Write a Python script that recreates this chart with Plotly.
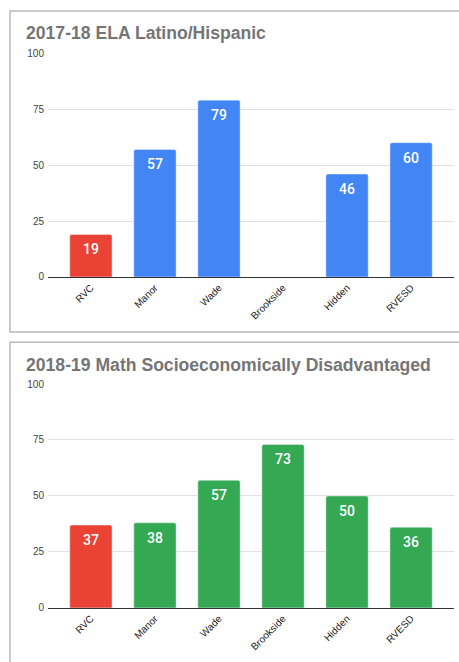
import plotly.graph_objects as go

# School categories shared by both charts
schools = ["RVC", "Manor", "Wade", "Brookside", "Hidden", "RVESD"]

# 2017-18 ELA Latino/Hispanic (Brookside has no reported value)
ela_latino = [19, 57, 79, None, 46, 60]

# 2018-19 Math Socioeconomically Disadvantaged
math_sed = [37, 38, 57, 73, 50, 36]

RED = "#EA4335"
BLUE = "#4285F4"
GREEN = "#34A853"

W, H = 459, 662


def px_x(p):
    return p / W


def px_y(p):
    return 1 - p / H


def colors_for(base):
    return [RED if s == "RVC" else base for s in schools]


fig = go.Figure()

fig.add_trace(go.Bar(
    x=schools, y=ela_latino, marker=dict(color=colors_for(BLUE), cornerradius=2),
    width=0.66, xaxis="x", yaxis="y", hoverinfo="x+y",
))
fig.add_trace(go.Bar(
    x=schools, y=math_sed, marker=dict(color=colors_for(GREEN), cornerradius=2),
    width=0.66, xaxis="x2", yaxis="y2", hoverinfo="x+y",
))

# value labels inside the top of each bar
annotations = []
for vals, xr, yr in ((ela_latino, "x", "y"), (math_sed, "x2", "y2")):
    for s, v in zip(schools, vals):
        if v is None:
            continue
        annotations.append(dict(
            x=s, y=v, xref=xr, yref=yr, text=str(v), showarrow=False,
            yshift=-15, yanchor="middle",
            font=dict(family="Roboto", size=14, color="white", weight=500),
        ))

# panel titles
for title, ty in (("2017-18 ELA Latino/Hispanic", 28),
                  ("2018-19 Math Socioeconomically Disadvantaged", 366)):
    annotations.append(dict(
        x=px_x(24), y=px_y(ty), xref="paper", yref="paper", text=title,
        showarrow=False, xanchor="left", yanchor="middle",
        font=dict(family="Liberation Sans, Arial", size=17.6, color="#757575", weight="bold"),
    ))

xaxis_common = dict(
    type="category", range=[-0.67, 5.67], tickangle=-45,
    tickfont=dict(family="Liberation Sans, Arial", size=10, color="#222222"),
    showgrid=False, showline=True, linecolor="#333333", linewidth=1,
    ticks="", fixedrange=True,
)
yaxis_common = dict(
    range=[0, 100], tickvals=[0, 25, 50, 75, 100],
    tickfont=dict(family="Liberation Sans, Arial", size=10, color="#444444"),
    showgrid=True, gridcolor="#e0e0e0", gridwidth=1, zeroline=False,
    ticks="", ticklen=0, ticklabelstandoff=3, fixedrange=True,
)

# panel frames
shapes = [
    dict(type="rect", xref="paper", yref="paper",
         x0=px_x(10), x1=px_x(470), y0=px_y(332), y1=px_y(5),
         line=dict(color="#b8b8b8", width=1.5), fillcolor="rgba(0,0,0,0)", layer="below"),
    dict(type="rect", xref="paper", yref="paper",
         x0=px_x(10), x1=px_x(470), y0=px_y(700), y1=px_y(342.5),
         line=dict(color="#b8b8b8", width=1.5), fillcolor="rgba(0,0,0,0)", layer="below"),
]

fig.update_layout(
    width=W, height=H, margin=dict(l=0, r=0, t=0, b=0),
    paper_bgcolor="white", plot_bgcolor="white", showlegend=False,
    bargap=0.3,
    xaxis=dict(domain=[px_x(48), px_x(454)], anchor="y", **xaxis_common),
    yaxis=dict(domain=[px_y(276), px_y(48)], anchor="x", **yaxis_common),
    xaxis2=dict(domain=[px_x(48), px_x(454)], anchor="y2", **xaxis_common),
    yaxis2=dict(domain=[px_y(613), px_y(385)], anchor="x2", **yaxis_common),
    annotations=annotations, shapes=shapes,
)

fig.write_html("out.html")
